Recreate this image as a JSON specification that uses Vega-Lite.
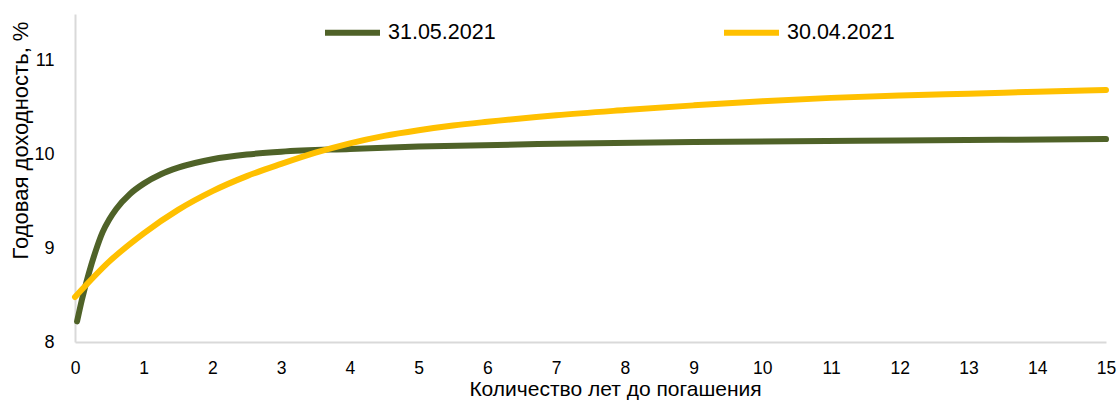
{
  "$schema": "https://vega.github.io/schema/vega-lite/v6.json",
  "autosize": "none",
  "width": 1031,
  "height": 328,
  "padding": {"left": 75, "top": 14, "right": 11, "bottom": 59},
  "background": "white",
  "config": {
    "view": {"stroke": null},
    "font": "Liberation Sans"
  },
  "data": {
    "values": [
      {"series": "31.05.2021", "year": 0.03, "yield": 8.22},
      {"series": "31.05.2021", "year": 0.1, "yield": 8.45},
      {"series": "31.05.2021", "year": 0.2, "yield": 8.73},
      {"series": "31.05.2021", "year": 0.3, "yield": 8.97},
      {"series": "31.05.2021", "year": 0.4, "yield": 9.17},
      {"series": "31.05.2021", "year": 0.5, "yield": 9.31},
      {"series": "31.05.2021", "year": 0.6, "yield": 9.42},
      {"series": "31.05.2021", "year": 0.8, "yield": 9.58},
      {"series": "31.05.2021", "year": 1.0, "yield": 9.69},
      {"series": "31.05.2021", "year": 1.25, "yield": 9.79},
      {"series": "31.05.2021", "year": 1.5, "yield": 9.86},
      {"series": "31.05.2021", "year": 2.0, "yield": 9.95},
      {"series": "31.05.2021", "year": 2.5, "yield": 10.0},
      {"series": "31.05.2021", "year": 3.0, "yield": 10.03},
      {"series": "31.05.2021", "year": 4.0, "yield": 10.06},
      {"series": "31.05.2021", "year": 5.0, "yield": 10.085},
      {"series": "31.05.2021", "year": 7.0, "yield": 10.115},
      {"series": "31.05.2021", "year": 9.0, "yield": 10.135},
      {"series": "31.05.2021", "year": 12.0, "yield": 10.15},
      {"series": "31.05.2021", "year": 15.0, "yield": 10.165},
      {"series": "30.04.2021", "year": 0.0, "yield": 8.48},
      {"series": "30.04.2021", "year": 0.5, "yield": 8.86},
      {"series": "30.04.2021", "year": 1.0, "yield": 9.16},
      {"series": "30.04.2021", "year": 1.5, "yield": 9.41},
      {"series": "30.04.2021", "year": 2.0, "yield": 9.61},
      {"series": "30.04.2021", "year": 2.5, "yield": 9.77},
      {"series": "30.04.2021", "year": 3.0, "yield": 9.9},
      {"series": "30.04.2021", "year": 3.5, "yield": 10.02},
      {"series": "30.04.2021", "year": 4.0, "yield": 10.12},
      {"series": "30.04.2021", "year": 4.5, "yield": 10.2},
      {"series": "30.04.2021", "year": 5.0, "yield": 10.26},
      {"series": "30.04.2021", "year": 5.5, "yield": 10.31},
      {"series": "30.04.2021", "year": 6.0, "yield": 10.35},
      {"series": "30.04.2021", "year": 7.0, "yield": 10.42},
      {"series": "30.04.2021", "year": 8.0, "yield": 10.475},
      {"series": "30.04.2021", "year": 9.0, "yield": 10.525},
      {"series": "30.04.2021", "year": 10.0, "yield": 10.57},
      {"series": "30.04.2021", "year": 11.0, "yield": 10.605},
      {"series": "30.04.2021", "year": 12.0, "yield": 10.63},
      {"series": "30.04.2021", "year": 13.0, "yield": 10.65},
      {"series": "30.04.2021", "year": 14.0, "yield": 10.67},
      {"series": "30.04.2021", "year": 15.0, "yield": 10.69}
    ]
  },
  "mark": {"type": "line", "interpolate": "monotone", "strokeWidth": 6, "strokeCap": "round"},
  "encoding": {
    "x": {
      "field": "year", "type": "quantitative",
      "scale": {"domain": [0, 15], "nice": false, "zero": false},
      "axis": {
        "title": "Количество лет до погашения",
        "values": [0,1,2,3,4,5,6,7,8,9,10,11,12,13,14,15],
        "grid": false, "ticks": false, "labelFlush": false,
        "domainColor": "#D9D9D9", "domainWidth": 2,
        "labelFontSize": 17.5, "labelColor": "#000000", "labelPadding": 17,
        "titleFontSize": 21, "titleFontWeight": "normal", "titleColor": "#000000",
        "titleX": 540, "titleY": 53, "titleBaseline": "alphabetic", "titleAlign": "center"
      }
    },
    "y": {
      "field": "yield", "type": "quantitative",
      "scale": {"domain": [8, 11.5], "nice": false, "zero": false},
      "axis": {
        "title": "Годовая доходность, %",
        "values": [8, 9, 10, 11],
        "grid": false, "ticks": false, "labelFlush": false,
        "domainColor": "#D9D9D9", "domainWidth": 2,
        "labelFontSize": 18, "labelColor": "#000000", "labelPadding": 21,
        "titleFontSize": 22, "titleFontWeight": "normal", "titleColor": "#000000",
        "titleAngle": 270, "titleX": -55, "titleY": 126, "titleBaseline": "middle", "titleAlign": "center"
      }
    },
    "color": {
      "field": "series", "type": "nominal",
      "scale": {"domain": ["31.05.2021", "30.04.2021"], "range": ["#4F6228", "#FFC000"]},
      "legend": {
        "title": null,
        "orient": "none",
        "direction": "horizontal",
        "legendX": 247,
        "legendY": -12,
        "symbolType": "stroke",
        "symbolSize": 3025,
        "symbolStrokeWidth": 6,
        "labelFontSize": 21.5,
        "labelColor": "#000000",
        "labelOffset": 5,
        "columnPadding": 216
      }
    }
  }
}
